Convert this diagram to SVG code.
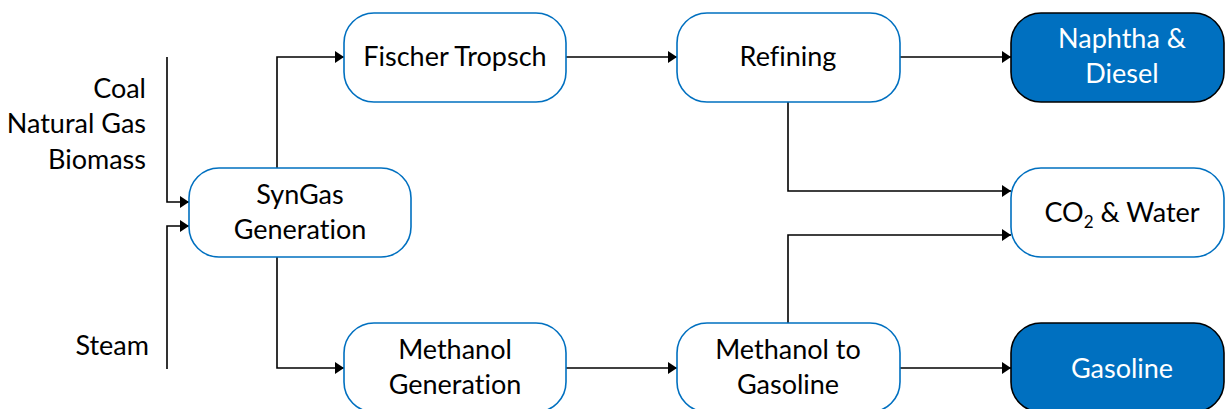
<svg xmlns="http://www.w3.org/2000/svg" width="1225" height="409" viewBox="0 0 1225 409">
<style>
.box{fill:#ffffff;stroke:#0070C0;stroke-width:1.6}
.out{fill:#0070C0;stroke:#000000;stroke-width:1.6}
text{font-family:Lato,"Open Sans","Liberation Sans",sans-serif;font-size:27px;fill:#000000;font-variant-ligatures:none}
.c{text-anchor:middle}
.r{text-anchor:end}
.w{fill:#ffffff}
.ln{fill:none;stroke:#000000;stroke-width:1.6;marker-end:url(#ah)}
</style>
<defs>
<marker id="ah" markerUnits="userSpaceOnUse" markerWidth="10" markerHeight="12" refX="9" refY="6" orient="auto">
<path d="M0,0 L9,6 L0,12 Z" fill="#000000"/>
</marker>
</defs>
<rect width="1225" height="409" fill="#ffffff"/>
<g id="inputs">
<text class="r" x="146" y="98">Coal</text>
<text class="r" x="146" y="133">Natural Gas</text>
<text class="r" x="146" y="169">Biomass</text>
<text class="r" x="149" y="355">Steam</text>
</g>
<g id="connectors">
<path class="ln" d="M167,57 V202 H189"/>
<path class="ln" d="M167,369 V226 H189"/>
<path class="ln" d="M277,168 V57 H344"/>
<path class="ln" d="M277,257 V368 H344"/>
<path class="ln" d="M566,57 H677"/>
<path class="ln" d="M900,57 H1011"/>
<path class="ln" d="M788,102 V191 H1011"/>
<path class="ln" d="M788,323 V235 H1011"/>
<path class="ln" d="M566,368 H677"/>
<path class="ln" d="M900,368 H1011"/>
</g>
<g id="syngas">
<rect class="box" x="189" y="168" width="222" height="89" rx="30"/>
<text class="c" x="300" y="204">SynGas</text>
<text class="c" x="300" y="239">Generation</text>
</g>
<g id="fischer">
<rect class="box" x="344" y="13" width="222" height="89" rx="30"/>
<text class="c" x="455" y="66">Fischer Tropsch</text>
</g>
<g id="refining">
<rect class="box" x="677" y="13" width="223" height="89" rx="30"/>
<text class="c" x="788" y="66">Refining</text>
</g>
<g id="naphtha">
<rect class="out" x="1011" y="13" width="213" height="89" rx="30"/>
<text class="c w" x="1122" y="48">Naphtha &amp;</text>
<text class="c w" x="1122" y="83">Diesel</text>
</g>
<g id="co2">
<rect class="box" x="1011" y="168" width="213" height="89" rx="30"/>
<text class="c" x="1122" y="222">CO<tspan font-size="17" dy="6">2</tspan><tspan dy="-6"> &amp; Water</tspan></text>
</g>
<g id="methanol">
<rect class="box" x="344" y="323" width="222" height="89" rx="30"/>
<text class="c" x="455" y="359">Methanol</text>
<text class="c" x="455" y="394">Generation</text>
</g>
<g id="mtg">
<rect class="box" x="677" y="323" width="223" height="89" rx="30"/>
<text class="c" x="788" y="359">Methanol to</text>
<text class="c" x="788" y="394">Gasoline</text>
</g>
<g id="gasoline">
<rect class="out" x="1011" y="323" width="213" height="89" rx="30"/>
<text class="c w" x="1122" y="378">Gasoline</text>
</g>
</svg>
